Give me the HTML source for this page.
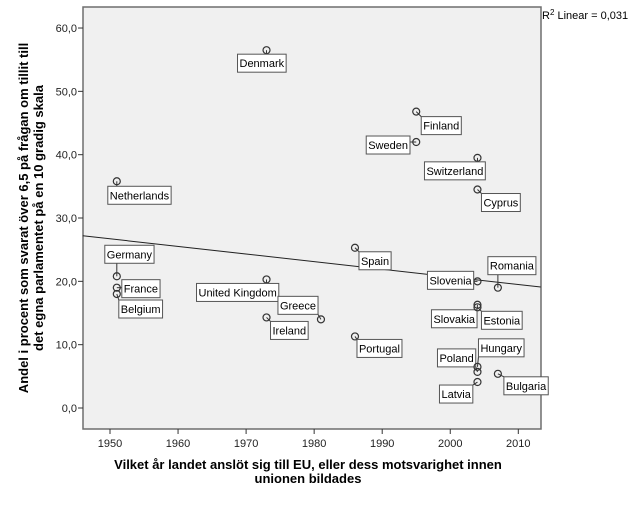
<!DOCTYPE html>
<html><head><meta charset="utf-8"><style>
body{margin:0;background:#fff;}
svg text{font-family:"Liberation Sans",Arial,sans-serif;}
</style></head><body>
<svg id="chart" width="629" height="504" xmlns="http://www.w3.org/2000/svg">
<rect x="83" y="7" width="458" height="422" fill="#f0f0f0" stroke="#6e6e6e" stroke-width="1.5"/>
<g id="axes"></g>
<g id="fit"></g>
<g id="pts"></g>
<text x="542" y="19" font-size="11">R<tspan dy="-4" font-size="8">2</tspan><tspan dy="4"> Linear = 0,031</tspan></text>
<text transform="translate(28,218) rotate(-90)" text-anchor="middle" font-size="13" font-weight="bold"><tspan x="0" y="0">Andel i procent som svarat över 6,5 på frågan om tillit till</tspan><tspan x="0" y="15">det egna parlamentet på en 10 gradig skala</tspan></text>
<text x="308" y="469" text-anchor="middle" font-size="13" font-weight="bold">Vilket år landet anslöt sig till EU, eller dess motsvarighet innen</text>
<text x="308" y="483" text-anchor="middle" font-size="13" font-weight="bold">unionen bildades</text>
</svg>
<script>
const countries=["Denmark","Netherlands","Finland","Sweden","Switzerland","Cyprus","Germany","France","Belgium","United Kingdom","Greece","Ireland","Portugal","Spain","Slovenia","Romania","Slovakia","Estonia","Poland","Hungary","Latvia","Bulgaria"];
const years=[1973,1951,1995,1995,2004,2004,1951,1951,1951,1973,1981,1973,1986,1986,2004,2007,2004,2004,2004,2004,2004,2007];
const values=[56.5,35.8,46.8,42.0,39.5,34.5,20.8,19.0,18.0,20.3,14.0,14.3,11.3,25.3,20.0,19.0,16.3,15.9,5.7,6.5,4.1,5.4];
const xTicks=[1950,1960,1970,1980,1990,2000,2010];
const yTicks=[0,10,20,30,40,50,60];
const fitYears=[1946.0,2013.3];
const fitValues=[27.2,19.1];
// label box offsets relative to point (layout only)
const labelOff=[[-29,4],[-9,5],[5,5],[-50,-6],[-53,4],[4,4],[-12,-31],[5,-8],[2,6],[-70,4],[-43,-23],[4,4],[2,3],[4,4],[-50,-10],[-10,-31],[-46,5],[4,4],[-40,-23],[1,-28],[-38,3],[6,3]];
const NS="http://www.w3.org/2000/svg";
const X=v=>110+(v-1950)*6.805;
const Y=v=>408-v*6.333;
function mk(t,a,p){const e=document.createElementNS(NS,t);for(const k in a)e.setAttribute(k,a[k]);p.appendChild(e);return e;}
const ax=document.getElementById('axes');
yTicks.forEach(t=>{
  const l=mk('line',{x1:78,x2:83,y1:Y(t),y2:Y(t),stroke:'#333'},ax);
  
  
  const s=mk('text',{x:77,y:Y(t)+4,'text-anchor':'end','font-size':11,fill:'#222'},ax);
  
  
  s.textContent=t.toFixed(1).replace('.',',');
});
xTicks.forEach(t=>{
  const l=mk('line',{x1:X(t),x2:X(t),y1:429,y2:434,stroke:'#333'},ax);
  
  
  const s=mk('text',{x:X(t),y:447,'text-anchor':'middle','font-size':11,fill:'#222'},ax);
  
  
  s.textContent=t;
});
const fl=mk('line',{x1:X(fitYears[0]),y1:Y(fitValues[0]),x2:X(fitYears[1]),y2:Y(fitValues[1]),stroke:'#222','stroke-width':1},document.getElementById('fit'));


const pg=document.getElementById('pts');
countries.forEach((c,i)=>{
  const px=X(years[i]),py=Y(values[i]);
  const bx=px+labelOff[i][0],by=py+labelOff[i][1];
  const ln=mk('line',{x1:px,y1:py,x2:px,y2:py,stroke:'#333'},pg);
  
  
  const ci=mk('circle',{cx:px,cy:py,r:3.5,fill:'none',stroke:'#333','stroke-width':1.2},pg);
  
  
  const r=mk('rect',{x:bx,y:by,width:10,height:18,fill:'#fff',stroke:'#555'},pg);
  
  
  const t=mk('text',{x:bx+2,y:by+13,'font-size':11,fill:'#000'},pg);
  
  
  t.textContent=c;
  let tw=c.length*5.6+4;
  try{tw=t.getComputedTextLength()+4;}catch(e){}
  r.setAttribute('width',tw);
  const cx=Math.max(bx,Math.min(px,bx+tw)),cy=Math.max(by,Math.min(py,by+18));
  ln.setAttribute('x2',cx);ln.setAttribute('y2',cy);
});
</script>
</body></html>
